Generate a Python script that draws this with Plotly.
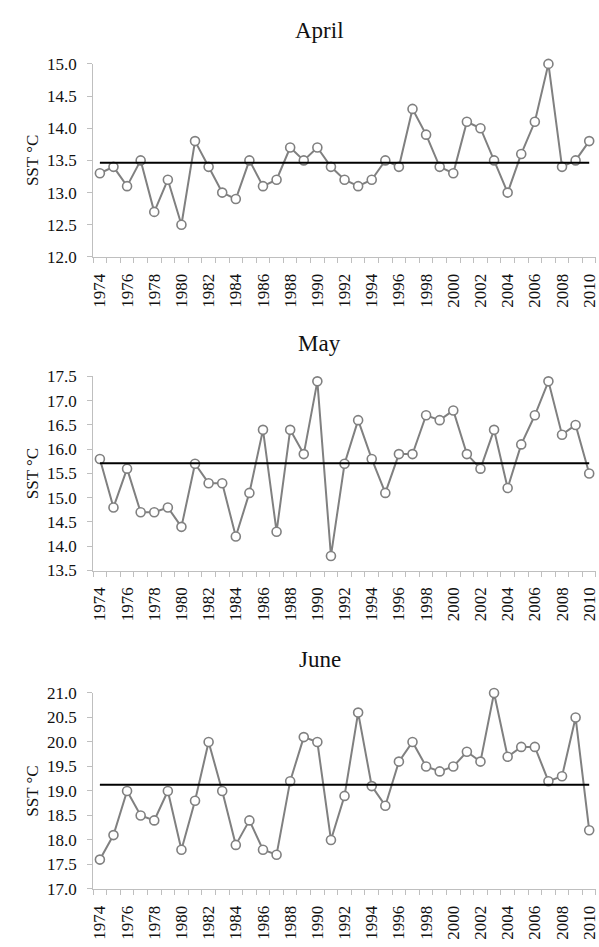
import plotly.graph_objects as go

years = list(range(1974, 2011))

april_sst = [13.3, 13.4, 13.1, 13.5, 12.7, 13.2, 12.5, 13.8, 13.4, 13.0,
             12.9, 13.5, 13.1, 13.2, 13.7, 13.5, 13.7, 13.4, 13.2, 13.1,
             13.2, 13.5, 13.4, 14.3, 13.9, 13.4, 13.3, 14.1, 14.0, 13.5,
             13.0, 13.6, 14.1, 15.0, 13.4, 13.5, 13.8]

may_sst = [15.8, 14.8, 15.6, 14.7, 14.7, 14.8, 14.4, 15.7, 15.3, 15.3,
           14.2, 15.1, 16.4, 14.3, 16.4, 15.9, 17.4, 13.8, 15.7, 16.6,
           15.8, 15.1, 15.9, 15.9, 16.7, 16.6, 16.8, 15.9, 15.6, 16.4,
           15.2, 16.1, 16.7, 17.4, 16.3, 16.5, 15.5]

june_sst = [17.6, 18.1, 19.0, 18.5, 18.4, 19.0, 17.8, 18.8, 20.0, 19.0,
            17.9, 18.4, 17.8, 17.7, 19.2, 20.1, 20.0, 18.0, 18.9, 20.6,
            19.1, 18.7, 19.6, 20.0, 19.5, 19.4, 19.5, 19.8, 19.6, 21.0,
            19.7, 19.9, 19.9, 19.2, 19.3, 20.5, 18.2]

month_titles = ["April", "May", "June"]
y_ranges = [[12.0, 15.0], [13.5, 17.5], [17.0, 21.0]]
x_tick_labels = [str(y) for y in range(1974, 2011, 2)]
y_axis_title = "SST °C"

series = [april_sst, may_sst, june_sst]

W, H = 599, 947
# plot area pixel boxes (top, bottom)
plot_boxes = [(56, 253), (375, 573), (698, 898)]
x_left, x_right = 91, 599

FONT = "Liberation Serif, Times New Roman, serif"
AX_COLOR = "#bfbfbf"
DATA_COLOR = "#808080"
TXT = "#111111"
TICK_SIZE = 17

fig = go.Figure()
layout = dict(
    width=W, height=H,
    margin=dict(l=0, r=0, t=0, b=0),
    paper_bgcolor="white", plot_bgcolor="white",
    showlegend=False,
    font=dict(family=FONT, color=TXT, size=TICK_SIZE),
)
annotations = []

for i, (vals, title, yr, (top, bot)) in enumerate(zip(series, month_titles, y_ranges, plot_boxes)):
    n = "" if i == 0 else str(i + 1)
    xa, ya = "x" + n, "y" + n
    mean_val = sum(vals) / len(vals)
    fig.add_trace(go.Scatter(
        x=years, y=vals, xaxis=xa, yaxis=ya, mode="lines+markers",
        line=dict(color=DATA_COLOR, width=2),
        marker=dict(symbol="circle", size=9, color="white",
                    line=dict(color=DATA_COLOR, width=1.6)),
        cliponaxis=False,
    ))
    fig.add_trace(go.Scatter(
        x=[years[0], years[-1]], y=[mean_val, mean_val], xaxis=xa, yaxis=ya,
        mode="lines", line=dict(color="black", width=2), cliponaxis=False,
    ))
    ydom = [1 - bot / H, 1 - top / H]
    layout["xaxis" + n] = dict(
        domain=[x_left / W, x_right / W], anchor=ya,
        range=[years[0] - 0.5, years[-1] + 0.5],
        tickmode="array", tickvals=[int(t) for t in x_tick_labels], ticktext=x_tick_labels,
        tickangle=-90, ticks="outside", ticklen=9, tickcolor="rgba(0,0,0,0)",
        ticklabeloverflow="allow",
        tickfont=dict(family=FONT, size=TICK_SIZE, color=TXT),
        showline=True, linecolor=AX_COLOR, linewidth=1,
        showgrid=False, zeroline=False,
        minor=dict(ticks="outside", tickmode="linear", tick0=years[0] - 0.5, dtick=1,
                   ticklen=5, tickcolor=AX_COLOR, showgrid=False),
    )
    layout["yaxis" + n] = dict(
        domain=ydom, anchor=xa, range=yr,
        dtick=0.5, tick0=yr[0], tickformat=".1f",
        ticks="outside", ticklen=5, tickcolor=AX_COLOR,
        ticklabelstandoff=7,
        tickfont=dict(family=FONT, size=TICK_SIZE, color=TXT),
        showline=True, linecolor=AX_COLOR, linewidth=1,
        showgrid=False, zeroline=False,
    )
    annotations.append(dict(
        text=title, x=320 / W, y=1 - (top - 34) / H, xref="paper", yref="paper",
        xanchor="center", yanchor="middle", showarrow=False,
        font=dict(family=FONT, size=23, color=TXT),
    ))
    annotations.append(dict(
        text=y_axis_title, x=30 / W, y=1 - ((top + bot) / 2) / H, xref="paper", yref="paper",
        xanchor="center", yanchor="middle", showarrow=False, textangle=-90,
        font=dict(family=FONT, size=17, color=TXT),
    ))

layout["annotations"] = annotations
fig.update_layout(**layout)
fig.write_html("out.html")
